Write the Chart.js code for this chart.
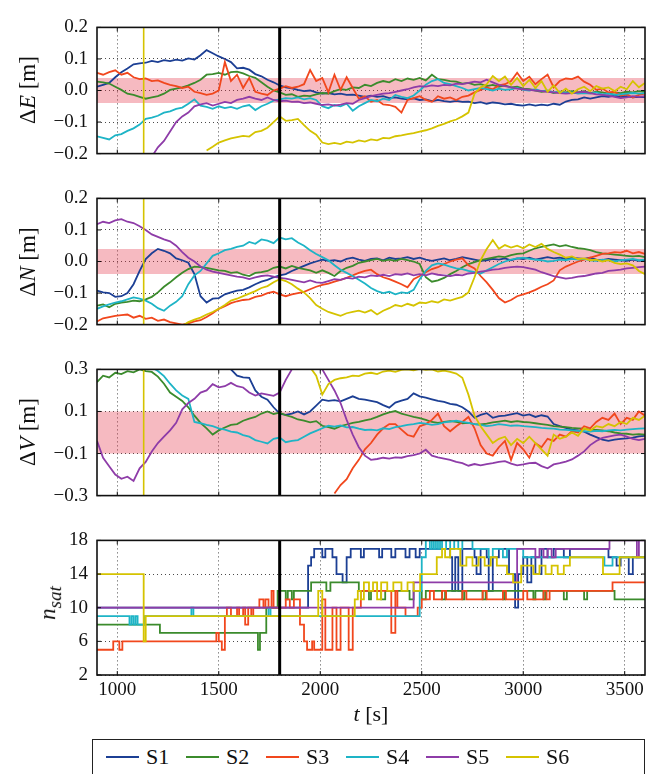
<!DOCTYPE html>
<html lang="en">
<head>
  <meta charset="UTF-8" />
  <title>Position errors and satellite count, S1-S6</title>
  <style>
    body {
      margin: 0;
      background: #fff;
      font-family: "Liberation Serif", "DejaVu Serif", serif;
      color: #111;
    }
    #page {
      position: relative;
      width: 652px;
      height: 774px;
      overflow: hidden;
    }
    #page canvas {
      position: absolute;
      left: 0;
    }
    .ylab, .xlab {
      position: absolute;
      font-size: 22px;
      line-height: 1;
      white-space: nowrap;
    }
    .ylab { transform: translate(-50%, -50%) rotate(-90deg); font-size: 23px; }
    .xlab { transform: translate(-50%, -50%); }
    #legend {
      position: absolute;
      left: 92px;
      top: 739px;
      width: 553px;
      height: 60px;
      box-sizing: border-box;
      border: 1.6px solid #222;
    }
    #legend .item {
      position: absolute;
      top: 17px;
      transform: translateY(-50%);
      display: flex;
      align-items: center;
      font-size: 22px;
      line-height: 1;
    }
    #legend .swatch {
      display: inline-block;
      width: 33px;
      height: 2px;
      margin-right: 7px;
    }
  </style>
</head>
<body>
<div id="page">
  <canvas id="panelE" width="652" height="167" style="top:7px"></canvas>
  <canvas id="panelN" width="652" height="167" style="top:178px"></canvas>
  <canvas id="panelV" width="652" height="167" style="top:349px"></canvas>
  <canvas id="panelSat" width="652" height="195" style="top:520px"></canvas>

  <div class="ylab" style="left:27px; top:90px">&Delta;<i>E</i> [m]</div>
  <div class="ylab" style="left:27px; top:262px">&Delta;<i>N</i> [m]</div>
  <div class="ylab" style="left:27px; top:432px">&Delta;<i>V</i> [m]</div>
  <div class="ylab" style="left:50px; top:603px"><i>n</i><sub><i>sat</i></sub></div>
  <div class="xlab" style="left:371px; top:714px"><i>t</i> [s]</div>

  <div id="legend"></div>
</div>

<script src="https://cdn.jsdelivr.net/npm/chart.js"></script>
<script>
  // ---- data ----
  const names = ['S1', 'S2', 'S3', 'S4', 'S5', 'S6'];
  const colors = ['#1c3f94', '#3b8b2c', '#f1471d', '#1eb4c6', '#8e3ca8', '#d5c300'];

  const xRange = [900, 3600];
  const xTicks = [1000, 1500, 2000, 2500, 3000, 3500];
  const markerBlack = 1800;   // thick black line
  const markerYellow = 1130;  // thin yellow line (top three panels)

  // sample times of the error series (series that start late are aligned to the end)
  const times = [
    900, 930, 960, 990, 1020, 1050, 1080, 1110, 1140, 1170,
    1200, 1230, 1260, 1290, 1320, 1350, 1380, 1410, 1440, 1470,
    1500, 1530, 1560, 1590, 1620, 1650, 1680, 1710, 1740, 1770,
    1800, 1830, 1860, 1890, 1920, 1950, 1980, 2010, 2040, 2070,
    2100, 2130, 2160, 2190, 2220, 2250, 2280, 2310, 2340, 2370,
    2400, 2430, 2460, 2490, 2520, 2550, 2580, 2610, 2640, 2670,
    2700, 2730, 2760, 2790, 2820, 2850, 2880, 2910, 2940, 2970,
    3000, 3030, 3060, 3090, 3120, 3150, 3180, 3210, 3240, 3270,
    3300, 3330, 3360, 3390, 3420, 3450, 3480, 3510, 3540, 3570,
    3600
  ];

  // ΔE [m]
  const dE_S1 = [
    .012, .018, .024, .042, .058, .07, .083, .086, .088, .094,
    .09, .096, .093, .098, .095, .102, .098, .112, .128, .118,
    .108, .1, .09, .07, .072, .066, .052, .045, .034, .026,
    .016, .01, .007, .002, -.002, 0, -.006, -.01, -.008, -.012,
    -.01, -.014, -.013, -.016, -.02, -.016, -.02, -.018, -.024, -.022,
    -.026, -.028, -.025, -.03, -.028, -.034, -.03, -.034, -.036, -.033,
    -.036, -.035, -.04, -.037, -.042, -.038, -.04, -.044, -.042, -.046,
    -.048, -.044, -.048, -.045, -.047, -.042, -.045, -.035, -.03, -.028,
    -.022, -.026, -.022, -.018, -.02, -.016, -.02, -.018, -.022, -.02,
    -.021
  ];
  const dE_S2 = [
    .028, .026, .022, .012, .002, -.01, -.014, -.02, -.026, -.022,
    -.018, -.01, .002, .006, .01, .016, .024, .034, .05, .052,
    .056, .05, .058, .06, .054, .046, .04, .026, .012, 0,
    -.006, -.014, -.012, -.02, -.016, -.018, -.012, -.008, -.01, -.002,
    .004, .002, .01, .008, .018, .014, .024, .03, .026, .036,
    .03, .038, .034, .04, .032, .05, .036, .034, .03, .028,
    .022, .024, .018, .02, .014, .018, .012, .016, .01, .012,
    .006, .004, 0, -.004, -.002, -.008, -.004, -.006, -.002, -.006,
    -.002, -.008, -.004, -.006, -.01, -.006, -.008, -.004, -.006, -.002,
    -.004
  ];
  const dE_S3 = [
    .056, .05, .058, .064, .05, .056, .042, .036, .038, .03,
    .032, .024, .018, .014, .008, .012, -.004, -.008, -.014, -.01,
    0, .09, .03, .05, .008, .04, -.004, -.01, -.014, 0,
    .006, .014, .008, .012, .02, .065, .03, .04, -.006, .05,
    .002, .042, .008, -.026, -.018, -.036, -.03, -.044, -.046, -.052,
    -.07, -.03, -.024, -.018, -.03, -.036, -.018, -.026, -.022, -.03,
    -.02, -.016, -.006, .002, .01, .004, .016, .02, .03, .056,
    .03, .044, .02, .036, .05, .01, .03, .038, .036, .044,
    .028, .018, .002, .006, -.006, -.004, -.016, -.012, -.022, -.014,
    -.01
  ];
  const dE_S4 = [
    -.145, -.15, -.155, -.142, -.138, -.128, -.12, -.108, -.09, -.086,
    -.08, -.07, -.066, -.058, -.054, -.042, -.028, -.048, -.052, -.058,
    -.05, -.056, -.052, -.058, -.05, -.046, -.062, -.05, -.042, -.032,
    -.028, -.024, -.026, -.022, -.028, -.024, -.03, -.05, -.056, -.046,
    -.05, -.042, -.064, -.05, -.04, -.03, -.034, -.026, -.03, -.014,
    -.02, -.024, -.016, 0, .018, .03, .036, .024, .02, .014,
    .008, 0, .004, .008, .004, 0, .006, .002, .004, .008,
    .002, 0, .004, -.002, 0, -.006, -.004, -.008, -.006, -.01,
    -.008, -.01, -.006, -.012, -.01, -.014, -.012, -.01, -.008, -.01,
    -.008
  ];
  const dE_S5 = [
    -.21,
    -.18, -.16, -.13, -.1, -.082, -.07, -.05, -.044, -.04, -.048,
    -.042, -.036, -.04, -.03, -.026, -.02, -.026, -.03, -.022, -.03,
    -.034, -.032, -.036, -.035, -.04, -.038, -.042, -.046, -.044, -.048,
    -.045, -.04, -.042, -.03, -.024, -.018, -.014, -.01, -.008, -.004,
    0, .004, .01, .014, .012, .016, .014, .018, .016, .022,
    .02, .024, .028, .026, .034, .026, .018, .014, .01, .006,
    .004, .002, 0, -.002, -.004, -.006, -.008, -.01, -.008, -.006,
    -.004, -.008, -.012, -.014, -.016, -.02, -.024, -.022, -.018, -.02,
    -.018
  ];
  const dE_S6 = [
    -.19, -.178,
    -.165, -.158, -.152, -.148, -.144, -.146, -.132, -.128, -.118, -.1,
    -.082, -.096, -.094, -.09, -.11, -.128, -.14, -.165, -.17, -.166,
    -.17, -.162, -.165, -.158, -.162, -.155, -.158, -.15, -.152, -.145,
    -.142, -.138, -.135, -.13, -.126, -.12, -.112, -.106, -.098, -.092,
    -.082, -.07, -.01, .01, .02, .046, .03, .044, .018, .04,
    .014, .034, .008, .03, -.004, .016, -.008, .006, -.01, .004,
    .012, -.002, .014, .006, .01, -.002, .012, .004, .03, .01,
    .024
  ];

  // ΔN [m]
  const dN_S1 = [
    -.092, -.098, -.1, -.112, -.11, -.1, -.072, -.03, .008, .026,
    .04, .034, .026, .01, .004, -.004, -.04, -.11, -.13, -.118,
    -.116, -.104, -.098, -.092, -.09, -.082, -.072, -.064, -.058, -.05,
    -.044, -.04, -.03, -.022, -.014, -.006, 0, .006, .002, .004,
    0, .008, .012, .006, .002, .008, .01, .004, .012, .008,
    .01, .014, .008, .012, .006, .002, .006, .01, .004, .008,
    .014, .01, .006, .002, .004, .008, .006, .01, .004, .01,
    .008, .012, .006, .01, .014, .01, .012, .008, .012, .01,
    .008, .012, .006, .004, .008, .006, .004, .002, .006, .002,
    .004
  ];
  const dN_S2 = [
    -.14, -.136, -.145, -.134, -.13, -.128, -.124, -.126, -.12, -.112,
    -.098, -.08, -.066, -.05, -.036, -.024, -.016, -.018, -.02, -.024,
    -.028, -.03, -.036, -.034, -.042, -.046, -.036, -.034, -.03, -.02,
    -.016, -.022, -.014, -.02, -.024, -.028, -.036, -.028, -.036, -.046,
    -.03, -.02, -.014, -.004, 0, .004, .008, .002, .006, .002,
    .008, .004, 0, -.008, -.05, -.064, -.06, -.052, -.04, -.03,
    -.018, -.008, -.002, .004, .008, .012, .016, .014, .02, .024,
    .026, .034, .042, .046, .05, .054, .048, .052, .046, .042,
    .04, .036, .03, .026, .024, .022, .02, .018, .016, .018,
    .014
  ];
  const dN_S3 = [
    -.19, -.18, -.176, -.172, -.17, -.168, -.178, -.172, -.182, -.178,
    -.188, -.184, -.192, -.196, -.2, -.196, -.19, -.186, -.176, -.164,
    -.15, -.142, -.132, -.126, -.122, -.12, -.112, -.108, -.1, -.096,
    -.104, -.11, -.104, -.1, -.096, -.088, -.08, -.074, -.07, -.064,
    -.058, -.052, -.044, -.036, -.03, -.026, -.04, -.05, -.056, -.064,
    -.072, -.082, -.056, -.046, -.034, -.024, -.018, -.008, 0, .006,
    .01, -.012, -.022, -.046, -.066, -.09, -.116, -.13, -.122, -.11,
    -.104, -.098, -.09, -.08, -.072, -.06, -.028, -.016, -.008, 0,
    .006, .012, .018, .024, .026, .03, .028, .034, .026, .03,
    .024
  ];
  const dN_S4 = [
    -.15, -.142, -.136, -.13, -.126, -.12, -.114, -.118, -.124, -.134,
    -.148, -.156, -.14, -.128, -.11, -.072, -.044, -.03, -.006, .018,
    .026, .036, .04, .046, .05, .062, .056, .07, .066, .058,
    .076, .07, .074, .06, .05, .036, .024, .014, .004, -.012,
    -.026, -.036, -.046, -.058, -.07, -.084, -.094, -.1, -.096, -.104,
    -.098, -.1, -.09, -.056, -.03, -.012, -.006, -.01, -.016, -.022,
    -.024, -.03, -.034, -.038, -.028, -.018, -.008, 0, .006, .01,
    .012, .008, .006, .004, 0, .002, .006, .004, .008, .006,
    .008, .004, .002, .006, .004, 0, .004, .006, .008, .004,
    .006
  ];
  const dN_S5 = [
    .118, .126, .122, .13, .134, .126, .122, .112, .1, .086,
    .078, .07, .064, .05, .03, .012, 0, -.016, -.026, -.032,
    -.036, -.04, -.044, -.048, -.05, -.056, -.05, -.046, -.044, -.048,
    -.052, -.054, -.058, -.062, -.066, -.06, -.066, -.068, -.062, -.056,
    -.058, -.052, -.054, -.048, -.05, -.044, -.046, -.042, -.046, -.04,
    -.042, -.038, -.044, -.04, -.044, -.038, -.042, -.044, -.046, -.042,
    -.044, -.038, -.036, -.032, -.03, -.026, -.024, -.02, -.018, -.016,
    -.018, -.022, -.026, -.034, -.04, -.046, -.05, -.054, -.052, -.048,
    -.046, -.042, -.038, -.036, -.03, -.028, -.026, -.022, -.02, -.018,
    -.016
  ];
  const dN_S6 = [
    -.205, -.192, -.184, -.178, -.168, -.16,
    -.15, -.138, -.124, -.118, -.11, -.102, -.094, -.084, -.078, -.066,
    -.056, -.062, -.072, -.086, -.098, -.116, -.138, -.15, -.16, -.166,
    -.172, -.164, -.16, -.156, -.162, -.154, -.168, -.156, -.148, -.138,
    -.142, -.134, -.14, -.13, -.132, -.126, -.13, -.12, -.124, -.118,
    -.112, -.098, -.05, .004, .04, .068, .04, .052, .044, .05,
    .042, .054, .046, .056, .04, .03, .022, .012, .016, .008,
    .01, .004, .006, 0, .004, -.004, -.008, -.006, -.012, -.03,
    -.04
  ];

  // ΔV [m]
  const dV_S1 = [
    .32, .3, .27, .262, .26, .2, .17, .156, .12,
    .09, .084, .09, .1, .086, .1, .128, .156, .15, .154,
    .148, .16, .172, .16, .156, .15, .144, .13, .118, .142,
    .152, .16, .186, .172, .166, .158, .15, .146, .136, .132,
    .12, .1, .07, .084, .092, .07, .078, .08, .086, .092,
    .08, .086, .074, .082, .076, .04, .03, .022, .014, .01,
    .004, -.01, -.022, -.034, -.04, -.034, -.03, -.028, -.024, -.018,
    -.016
  ];
  const dV_S2 = [
    .24, .27, .262, .284, .278, .292, .286, .3, .292, .288,
    .266, .232, .19, .17, .15, .12, .08, .046, .02, -.01,
    .01, .024, .036, .04, .056, .066, .074, .09, .1, .088,
    .094, .082, .074, .062, .056, .048, .054, .032, .026, .018,
    .03, .038, .046, .05, .058, .064, .074, .086, .096, .102,
    .09, .082, .074, .068, .06, .05, .046, .05, .054, .05,
    .044, .046, .04, .038, .042, .048, .052, .056, .05, .054,
    .05, .048, .044, .04, .036, .03, .028, .026, .022, .02,
    .018, .014, .012, .01, .006, 0, -.004, -.006, -.01, -.008,
    -.01
  ];
  const dV_S3 = [
    -.29,
    -.25, -.222, -.17, -.13, -.08, -.05, -.01, .02, .04, .04,
    .014, -.012, -.02, .03, .04, .06, .09, .03, .006, .03,
    .05, .074, .02, -.06, -.1, -.11, -.07, -.04, -.13, -.05,
    -.08, -.12, -.05, -.07, -.03, -.04, -.01, -.02, .006, 0,
    .03, .02, .05, .07, .06, .09, .04, .07, .06, .1,
    .08
  ];
  const dV_S4 = [
    .31,
    .292, .268, .232, .2, .176, .16, .05, .044, .036, .03,
    .02, .014, .004, 0, -.012, -.02, -.036, -.044, -.052, -.03,
    -.024, -.046, -.04, -.036, -.02, -.004, .008, .02, .032, .028,
    .034, .024, .026, .018, .012, .014, .01, .02, .016, .026,
    .03, .036, .04, .046, .042, .036, .04, .048, .052, .056,
    .05, .046, .04, .036, .03, .034, .04, .036, .032, .034,
    .03, .028, .026, .022, .02, .018, .014, .012, .01, .008,
    .006, .004, .008, .006, .01, .012, .01, .014, .016, .018,
    .02
  ];
  const dV_S5 = [
    -.04, -.12, -.16, -.2, -.22, -.21, -.23, -.17, -.14, -.09,
    -.05, -.02, .01, .046, .11, .14, .16, .19, .2, .23,
    .215, .22, .236, .22, .214, .19, .176, .186, .18, .174,
    .19, .25, .3, .33, .34, .34, .32, .3, .25, .2,
    .14, .06, -.01, -.07, -.11, -.13, -.126, -.12, -.124, -.118,
    -.12, -.112, -.108, -.1, -.082, -.11, -.118, -.124, -.13, -.14,
    -.146, -.158, -.15, -.156, -.15, -.146, -.14, -.136, -.148, -.156,
    -.152, -.146, -.144, -.16, -.17, -.152, -.146, -.138, -.128, -.11,
    -.09, -.06, -.04, -.026, -.02, -.014, -.01, -.02, -.03, -.036,
    -.03
  ];
  const dV_S6 = [
    .31, .27, .18, .23, .25,
    .258, .262, .27, .268, .28, .284, .278, .29, .294, .288,
    .298, .3, .296, .302, .298, .3, .29, .294, .288, .28,
    .26, .18, .08, .03, -.01, -.05, -.03, -.02, -.06, -.03,
    -.05, -.02, -.05, -.08, -.11, -.01, -.03, -.02, 0, -.016,
    .02, .01, .03, .024, .04, .03, .05, .04, .07, .06,
    .08
  ];

  // n_sat: [time, count] change points, value holds until the next point
  const nsat_S1 = [[900,10],[1940,15],[1955,16],[1970,17],[2010,16],[2025,17],[2060,16],[2080,14],[2110,13],[2130,16],
    [2150,17],[2200,16],[2215,17],[2290,16],[2305,17],[2350,16],[2370,17],[2420,16],[2440,17],[2470,16],
    [2490,17],[2640,16],[2650,12],[2665,16],[2680,12],[2700,17],[2760,16],[2770,14],[2790,17],[2820,16],
    [2830,12],[2850,16],[2880,17],[2930,14],[2960,10],[2975,14],[3000,16],[3020,13],[3040,16],[3060,14],
    [3090,17],[3120,16],[3150,17],[3200,16],[3230,17],[3420,16],[3460,15],[3480,16],[3520,14],[3540,16],[3600,16]];
  const nsat_S2 = [[900,8],[1210,7],[1693,5],[1703,7],[1734,10],[1790,12],[1830,11],[1840,12],[1860,11],[1870,12],
    [1955,13],[2030,12],[2050,13],[2190,12],[2240,11],[2250,12],[2300,11],[2320,12],[2440,11],[2460,12],
    [2500,11],[2520,12],[2600,11],[2615,12],[2700,11],[2710,12],[2800,11],[2815,12],[2900,11],[2910,12],
    [3050,11],[3060,12],[3100,11],[3110,12],[3200,11],[3215,12],[3300,11],[3315,12],[3450,11],[3600,11]];
  const nsat_S3 = [[900,5],[980,6],[1010,5],[1025,6],[1488,7],[1500,6],[1515,5],[1530,9],[1540,10],[1560,9],
    [1590,10],[1600,9],[1620,10],[1630,8],[1645,10],[1660,9],[1670,10],[1700,11],[1720,10],[1730,11],
    [1745,10],[1760,12],[1770,10],[1830,11],[1850,10],[1870,11],[1900,8],[1920,6],[1935,5],[1960,6],
    [1970,5],[2010,11],[2025,5],[2060,10],[2080,5],[2100,10],[2140,5],[2160,10],[2200,12],[2350,7],
    [2370,12],[2380,10],[2420,9],[2480,10],[2500,11],[2540,12],[2560,11],[2600,12],[2620,11],[2700,12],
    [2720,11],[2800,12],[2820,11],[2900,12],[2915,11],[3000,12],[3020,11],[3100,12],[3115,11],[3130,12],
    [3440,13],[3600,13]];
  const nsat_S4 = [[900,9],[1060,8],[1070,9],[1080,8],[1090,9],[1100,8],[1135,9],[1365,10],[1375,9],[1745,10],
    [1755,9],[2490,12],[2500,16],[2520,18],[2540,17],[2550,18],[2560,17],[2570,18],[2580,17],[2590,18],
    [2600,17],[2620,18],[2640,17],[2660,18],[2680,17],[2700,18],[2750,17],[2830,16],[2850,17],[2900,16],
    [2920,17],[3000,16],[3400,15],[3440,16],[3600,16]];
  const nsat_S5 = [[900,10],[2460,13],[2970,17],[3060,16],[3080,17],[3100,16],[3120,17],[3140,16],[3160,17],
    [3425,18],[3560,16],[3570,18],[3600,18]];
  const nsat_S6 = [[900,14],[1130,6],[1140,9],[1990,12],[2010,9],[2170,11],[2185,12],[2200,11],[2215,13],[2240,12],
    [2260,13],[2280,11],[2300,13],[2330,12],[2360,13],[2400,12],[2430,13],[2460,12],[2492,14],[2574,16],
    [2600,17],[2615,16],[2640,17],[2690,15],[2720,16],[2750,15],[2780,16],[2810,15],[2840,16],[2870,15],
    [2920,14],[2950,13],[2990,15],[3050,14],[3080,15],[3110,14],[3140,15],[3170,14],[3200,15],[3230,16],
    [3393,14],[3475,16],[3600,16]];

  // axes
  const ticksEN = [-0.2, -0.1, 0, 0.1, 0.2];
  const ticksV = [-0.3, -0.1, 0.1, 0.3];
  const ticksSat = [2, 6, 10, 14, 18];
  const bandEN = [-0.04, 0.04];
  const bandV = [-0.1, 0.1];

  // ---- drawing ----
  const tickFont = { family: '"Liberation Serif", "DejaVu Serif", serif', size: 19 };
  const gridColor = '#4a4a4a';
  const bandColor = 'rgba(228, 52, 72, 0.34)';

  function toPoints(vals) {
    const off = times.length - vals.length;
    return vals.map((v, i) => ({ x: times[off + i], y: v }));
  }
  function toSteps(pairs) {
    return pairs.map(p => ({ x: p[0], y: p[1] }));
  }
  function fmtMeters(v) {
    return (v < 0 ? '\u2212' : '') + Math.abs(v).toFixed(1);
  }

  // box around the plot area with small inward ticks
  const frame = {
    id: 'frame',
    afterDatasetsDraw(chart) {
      const a = chart.chartArea, ctx = chart.ctx;
      ctx.save();
      ctx.strokeStyle = '#111';
      ctx.lineWidth = 1;
      ctx.beginPath();
      chart.scales.y.ticks.forEach(t => {
        const y = chart.scales.y.getPixelForValue(t.value);
        ctx.moveTo(a.left, y); ctx.lineTo(a.left + 4, y);
        ctx.moveTo(a.right, y); ctx.lineTo(a.right - 4, y);
      });
      chart.scales.x.ticks.forEach(t => {
        const x = chart.scales.x.getPixelForValue(t.value);
        ctx.moveTo(x, a.top); ctx.lineTo(x, a.top + 4);
        ctx.moveTo(x, a.bottom); ctx.lineTo(x, a.bottom - 4);
      });
      ctx.stroke();
      ctx.lineWidth = 1.6;
      ctx.strokeRect(a.left, a.top, a.right - a.left, a.bottom - a.top);
      ctx.restore();
    }
  };

  function makePanel(id, series, stepped, yRange, yTicks, fmt, band, withYellow, showX) {
    const datasets = series.map((pts, i) => ({
      label: names[i],
      data: pts,
      borderColor: colors[i],
      borderWidth: 1.8,
      pointRadius: 0,
      tension: 0,
      stepped: stepped,
      fill: false,
      order: 6 - i
    }));
    if (band) {
      datasets.push({
        label: 'band',
        data: [{ x: xRange[0], y: band[1] }, { x: xRange[1], y: band[1] }],
        borderColor: 'rgba(0,0,0,0)',
        borderWidth: 0,
        pointRadius: 0,
        backgroundColor: bandColor,
        fill: { value: band[0] },
        order: 10
      });
    }
    datasets.push({
      label: 'event',
      data: [{ x: markerBlack, y: yRange[0] }, { x: markerBlack, y: yRange[1] }],
      borderColor: '#000',
      borderWidth: 3,
      pointRadius: 0,
      fill: false,
      order: 0
    });
    if (withYellow) {
      datasets.push({
        label: 'S6 start',
        data: [{ x: markerYellow, y: yRange[0] }, { x: markerYellow, y: yRange[1] }],
        borderColor: colors[5],
        borderWidth: 1.6,
        pointRadius: 0,
        fill: false,
        order: 0
      });
    }

    return new Chart(document.getElementById(id), {
      type: 'line',
      data: { datasets },
      plugins: [frame],
      options: {
        responsive: false,
        animation: false,
        events: [],
        layout: { padding: { top: 12, bottom: showX ? 0 : 12, left: 0, right: 7 } },
        plugins: { legend: { display: false }, tooltip: { enabled: false } },
        scales: {
          x: {
            type: 'linear',
            min: xRange[0],
            max: xRange[1],
            afterBuildTicks: s => { s.ticks = xTicks.map(v => ({ value: v })); },
            afterFit: s => { s.height = showX ? 40 : 0; },
            grid: { color: gridColor, lineWidth: 1, drawTicks: false },
            border: { display: false, dash: [1, 3] },
            ticks: {
              display: showX, padding: 4, color: '#111', font: tickFont,
              maxRotation: 0, autoSkip: false, callback: v => String(v)
            }
          },
          y: {
            type: 'linear',
            min: yRange[0],
            max: yRange[1],
            afterBuildTicks: s => { s.ticks = yTicks.map(v => ({ value: v })); },
            afterFit: s => { s.width = 97; },
            grid: { color: gridColor, lineWidth: 1, drawTicks: false },
            border: { display: false, dash: [1, 3] },
            ticks: { padding: 9, color: '#111', font: tickFont, callback: fmt, autoSkip: false }
          }
        }
      }
    });
  }

  makePanel('panelE', [dE_S1, dE_S2, dE_S3, dE_S4, dE_S5, dE_S6].map(toPoints), false,
    [-0.2, 0.2], ticksEN, fmtMeters, bandEN, true, false);
  makePanel('panelN', [dN_S1, dN_S2, dN_S3, dN_S4, dN_S5, dN_S6].map(toPoints), false,
    [-0.2, 0.2], ticksEN, fmtMeters, bandEN, true, false);
  makePanel('panelV', [dV_S1, dV_S2, dV_S3, dV_S4, dV_S5, dV_S6].map(toPoints), false,
    [-0.3, 0.3], ticksV, fmtMeters, bandV, true, false);
  makePanel('panelSat', [nsat_S1, nsat_S2, nsat_S3, nsat_S4, nsat_S5, nsat_S6].map(toSteps), 'before',
    [2, 18], ticksSat, v => String(v), null, false, true);

  // legend
  const legend = document.getElementById('legend');
  names.forEach((n, i) => {
    const item = document.createElement('div');
    item.className = 'item';
    item.style.left = (13 + 80 * i) + 'px';
    item.innerHTML = '<span class="swatch" style="background:' + colors[i] + '"></span>' + n;
    legend.appendChild(item);
  });
</script>
</body>
</html>
